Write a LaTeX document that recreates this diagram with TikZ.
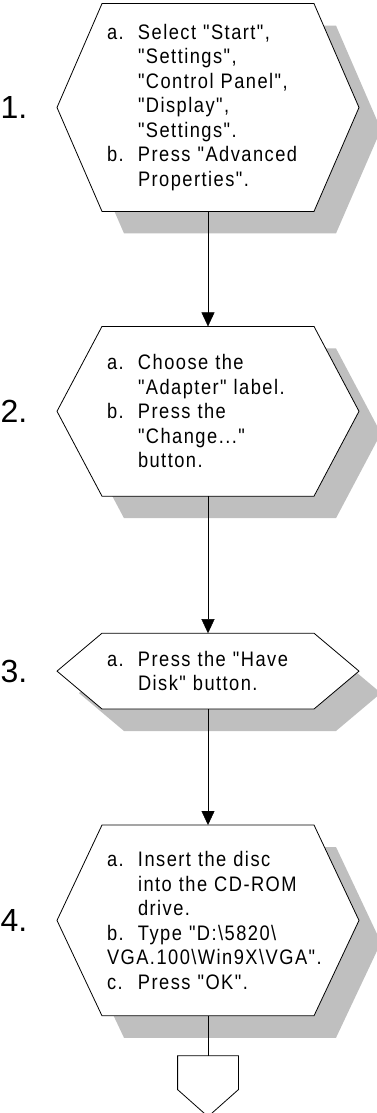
\documentclass[tikz,border=0pt]{standalone}
\usepackage{fontspec}
\setmainfont{Liberation Sans}[Ligatures=TeXOff, FakeStretch=0.87, LetterSpace=7]
\newfontfamily\labelfont{Liberation Sans}[Ligatures=TeXOff]
\usetikzlibrary{arrows.meta}
\usetikzlibrary{positioning}
\usetikzlibrary{backgrounds}
\tikzset{
    stepnode/.style = {rectangle, text width=202pt, inner sep=0pt, align=left, font=\fontsize{21}{24.5}\selectfont},
    steplabel/.style = {inner sep=0pt, font=\labelfont\fontsize{32}{32}\selectfont},
    hexline/.style = {draw=black, line width=0.8pt, fill=white},
    hexshadow/.style = {fill=black!25},
    pagenode/.style = {rectangle, minimum width=60pt, minimum height=60pt, inner sep=0pt}
}
% one line of a step: item letter, then its text
\newcommand{\stepitem}[2]{\mbox{\makebox[31pt][l]{#1}#2}}
% hexagon round a step node
\newcommand{\hexpath}[1]{([xshift=-106pt]#1.north) -- ([xshift=106pt]#1.north) -- ([xshift=151pt]#1.center)
    -- ([xshift=106pt]#1.south) -- ([xshift=-106pt]#1.south) -- ([xshift=-151pt]#1.center) -- cycle}

\begin{document}
\begin{tikzpicture}[x=1pt, y=-1pt, >={Triangle[width=13pt,length=14pt]}, line width=0.8pt]
    \useasboundingbox (0,0) rectangle (377,1113);

    \node (s1) [stepnode, minimum height=207pt] at (208,107.5)
        {\stepitem{a.}{Select "Start",}\\
         \stepitem{}{"Settings",}\\
         \stepitem{}{"Control Panel",}\\
         \stepitem{}{"Display",}\\
         \stepitem{}{"Settings".}\\
         \stepitem{b.}{Press "Advanced}\\
         \stepitem{}{Properties".}};
    \node (s2) [stepnode, minimum height=169pt, below=115pt of s1]
        {\stepitem{a.}{Choose the}\\
         \stepitem{}{"Adapter" label.}\\
         \stepitem{b.}{Press the}\\
         \stepitem{}{"Change..."}\\
         \stepitem{}{button.}};
    \node (s3) [stepnode, minimum height=75pt, below=137pt of s2]
        {\stepitem{a.}{Press the "Have}\\
         \stepitem{}{Disk" button.}};
    \node (s4) [stepnode, minimum height=190pt, below=116pt of s3]
        {\stepitem{a.}{Insert the disc}\\
         \stepitem{}{into the CD-ROM}\\
         \stepitem{}{drive.}\\
         \stepitem{b.}{Type "D:\textbackslash 5820\textbackslash}\\
         \mbox{VGA.100\textbackslash Win9X\textbackslash VGA".}\\
         \stepitem{c.}{Press "OK".}};
    \node (pg) [pagenode, below=40pt of s4] {};

    \node (l1) [steplabel, left=79pt of s1.west] {1.};
    \node (l2) [steplabel, left=79pt of s2.west] {2.};
    \node (l3) [steplabel, left=79pt of s3.west] {3.};
    \node (l4) [steplabel, left=79pt of s4.west] {4.};

    \begin{pgfonlayer}{background}
        \begin{scope}[transform canvas={xshift=22pt, yshift=-22pt}]
            \foreach \s in {s1,s2,s3,s4}
                \fill[hexshadow] \hexpath{\s};
        \end{scope}
        \foreach \s in {s1,s2,s3,s4}
            \draw[hexline] \hexpath{\s};
    \end{pgfonlayer}

    \draw[->] (s1.south) -- (s2.north);
    \draw[->] (s2.south) -- (s3.north);
    \draw[->] (s3.south) -- (s4.north);
    \draw (s4.south) -- (pg.north);
    \draw[hexline] (pg.north west) -- (pg.north east) -- ([yshift=27pt]pg.south east)
        -- (pg.south) -- ([yshift=27pt]pg.south west) -- cycle;
\end{tikzpicture}
\end{document}
